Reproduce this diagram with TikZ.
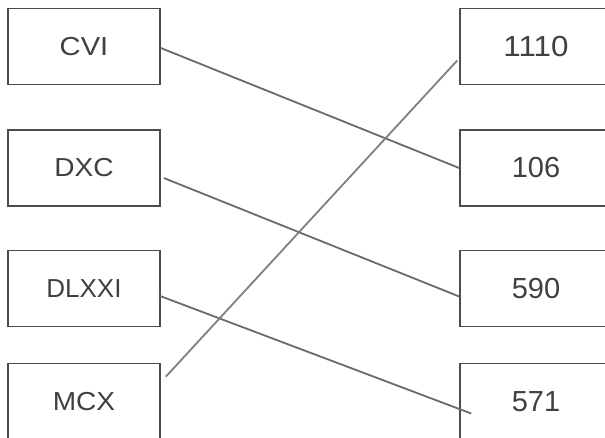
\documentclass[tikz,border=0pt]{standalone}
\usepackage{fontspec}
\setmainfont{Liberation Sans}
\begin{document}
\begin{tikzpicture}[x=1pt,y=-1pt,
  numbox/.style={draw=black!70,line width=1.6pt,minimum width=152pt,minimum height=76pt,inner sep=0pt,text=black!75},
  romantxt/.style={font=\fontsize{26}{30}\selectfont},
  digittxt/.style={font=\fontsize{29}{33}\selectfont},
  link/.style={draw=black!58,line width=1.8pt}]
\useasboundingbox (0,0) rectangle (605,438);
\clip (0,0) rectangle (605,438);
\fill[white] (0,0) rectangle (605,438);
\node[numbox,romantxt] (cvi) at (84,46.5) {\scalebox{1.12}[1]{CVI}};
\node[numbox,romantxt] (dxc) at (84,168) {\scalebox{1.08}[1]{DXC}};
\node[numbox,romantxt] (dlxxi) at (84,288.5) {DLXXI};
\node[numbox,romantxt] (mcx) at (84,401.5) {\scalebox{1.08}[1]{MCX}};
\node[numbox,digittxt] (n1110) at (536,46.5) {\scalebox{1.08}[1]{1110}};
\node[numbox,digittxt] (n106) at (536,168) {106};
\node[numbox,digittxt] (n590) at (536,288.5) {590};
\node[numbox,digittxt] (n571) at (536,401.5) {571};
\draw[link] ([yshift=-1.5pt]cvi.east) -- (n106.west);
\draw[link] ([xshift=3pt,yshift=-10pt]dxc.east) -- ([yshift=-8pt]n590.west);
\draw[link] ([xshift=-2pt,yshift=-7pt]dlxxi.east) -- ([xshift=12pt,yshift=-12pt]n571.west);
\draw[link,draw=black!50] ([xshift=5pt,yshift=-14pt]mcx.north east) -- ([xshift=-2pt,yshift=-14pt]n1110.west);
\end{tikzpicture}
\end{document}
